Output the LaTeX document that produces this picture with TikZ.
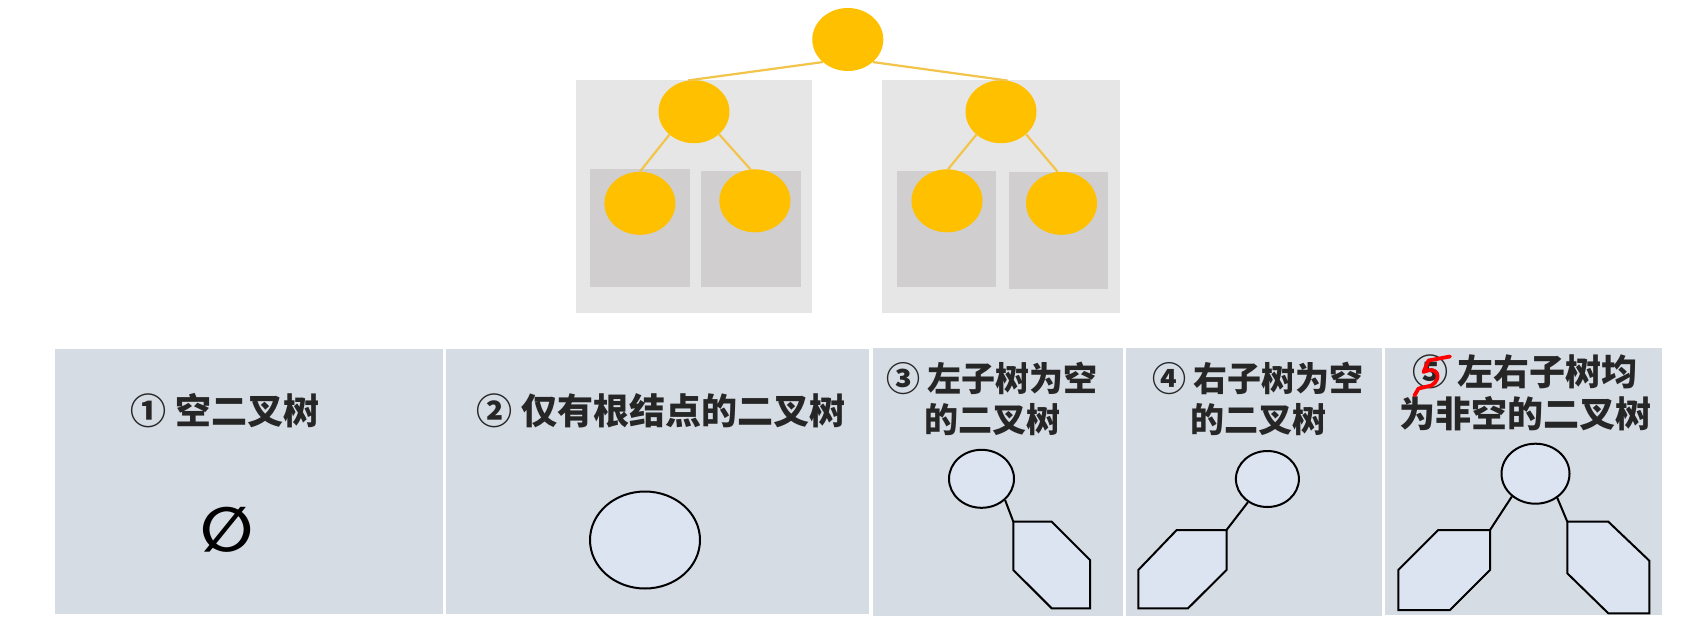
\documentclass[tikz,border=0pt]{standalone}
\usepackage{fontspec}
\newfontfamily\cjk{Noto Sans CJK SC}
\newfontfamily\symfont{DejaVu Sans}
\usetikzlibrary{shapes.geometric, positioning}

\definecolor{treegold}{HTML}{FFC000}
\definecolor{twiggold}{HTML}{F2C44A}
\definecolor{outerbox}{HTML}{E7E6E6}
\definecolor{innerbox}{HTML}{D0CECE}
\definecolor{panelbg}{HTML}{D6DCE4}
\definecolor{nodefill}{HTML}{DCE4F2}
\definecolor{captext}{HTML}{262626}

\begin{document}
\begin{tikzpicture}[x=1pt, y=-1pt,
    gold/.style={ellipse, fill=treegold, minimum width=71, minimum height=63, inner sep=0},
    twig/.style={draw=twiggold, line width=2.2},
    wnode/.style={ellipse, draw=black, fill=nodefill, line width=2, inner sep=0},
    subtree/.style={draw=black, fill=nodefill, line width=2},
    panel/.style={fill=panelbg},
    caption/.style={font=\cjk\bfseries\fontsize{36}{42}\selectfont, text=captext, align=center},
    smallcaption/.style={caption, font=\cjk\bfseries\fontsize{34}{41}\selectfont}]

    \fill[white] (0,0) rectangle (1703,643);

    % Subtree boxes
    \fill[outerbox] (575.5,80) rectangle (812.3,312.7);
    \fill[outerbox] (882.2,80) rectangle (1119.7,312.7);
    \fill[innerbox] (589.6,169.3) rectangle (689.5,286.7);
    \fill[innerbox] (701.3,171) rectangle (801.2,287.3);
    \fill[innerbox] (897,171) rectangle (996.1,287.3);
    \fill[innerbox] (1008.7,171.7) rectangle (1107.5,289);

    % Tree nodes
    \node[gold] (root) at (847.8,39.5) {};
    \node[gold] (L) at (694,111.7) {};
    \node[gold] (R) at (1001,111.7) {};
    \node[gold] (LL) at (639.9,203.3) {};
    \node[gold] (LR) at (754.9,200.8) {};
    \node[gold] (RL) at (947,200.8) {};
    \node[gold] (RR) at (1061.5,203.3) {};

    % Tree edges
    \draw[twig] (root.222) -- (L.101);
    \draw[twig] (root.318) -- (R.78);
    \draw[twig] (L.223) -- (LL.north);
    \draw[twig] (L.318) -- (LR.98);
    \draw[twig] (R.223) -- (RL.88);
    \draw[twig] (R.318) -- (RR.97);

    % Panels
    \fill[panel] (55,349) rectangle (443,614);
    \fill[panel] (446,349) rectangle (869,614);
    \fill[panel] (873,348) rectangle (1123,616);
    \fill[panel] (1126,348) rectangle (1382,616);
    \fill[panel] (1385,348) rectangle (1662,615);

    % Captions
    \node[caption] (t1) at (225,411) {① 空二叉树};
    \node[caption] (t2) at (661,411) {② 仅有根结点的二叉树};
    \node[smallcaption] (t3) at (992,399) {③ 左子树为空\\的二叉树};
    \node[smallcaption] (t4) at (1258,399) {④ 右子树为空\\的二叉树};
    \node[caption] (t5) at (1525,393) {⑤ 左右子树均\\为非空的二叉树};
    \draw[red, line width=3.8, line cap=round, line join=round]
        (1450,356.5) -- (1428.5,360.5) -- (1423.5,372)
        .. controls (1437,365) and (1443,378) .. (1431.5,385.5) -- (1418.5,388.5) -- (1414.5,395.5);

    % Case 1
    \node[inner sep=0] (empty) at (227,530) {\symfont\bfseries\fontsize{62}{62}\selectfont ∅};

    % Case 2
    \node[wnode, minimum width=110, minimum height=97] (c2) at (645,540) {};

    % Case 3
    \node[wnode, minimum width=65, minimum height=58] (c3) at (981.5,478.8) {};
    \coordinate (h3) at (1013.3,521.7);
    \draw[subtree] (h3) -- ++(38.4,0) -- ++(38.3,38.3) -- ++(0,48.3)
        -- ++(-38.3,0) -- ++(-38.4,-38.3) -- cycle;
    \draw[line width=2] (c3.318) -- (h3);

    % Case 4
    \node[wnode, minimum width=63, minimum height=56] (c4) at (1267.4,479) {};
    \coordinate (h4) at (1226.5,530);
    \draw[subtree] (h4) -- ++(0,40) -- ++(-38.5,38.3) -- ++(-49.7,0)
        -- ++(0,-38.3) -- ++(38.4,-40) -- cycle;
    \draw[line width=2] (c4.230) -- (h4);

    % Case 5
    \node[wnode, minimum width=68, minimum height=60] (c5) at (1535.5,473.7) {};
    \coordinate (h5l) at (1490,530);
    \coordinate (h5r) at (1567.3,521.7);
    \draw[subtree] (h5l) -- ++(0,40) -- ++(-40,40) -- ++(-51.7,0)
        -- ++(0,-40) -- ++(40,-40) -- cycle;
    \draw[subtree] (h5r) -- ++(41,0) -- ++(41,39) -- ++(0,52.6)
        -- ++(-41,0) -- ++(-41,-40) -- cycle;
    \draw[line width=2] (c5.224) -- (h5l);
    \draw[line width=2] (c5.312) -- (h5r);
\end{tikzpicture}
\end{document}
